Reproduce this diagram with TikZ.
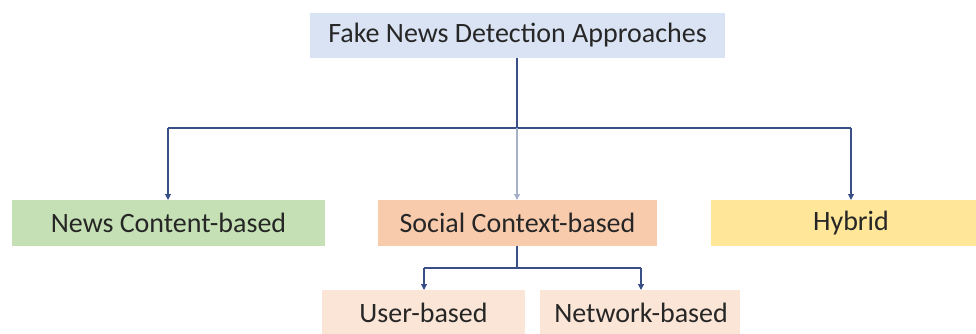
\documentclass[tikz,border=0pt]{standalone}
\usepackage{fontspec}
\setmainfont{Carlito}
\usetikzlibrary{arrows.meta}
\definecolor{rootfill}{HTML}{DAE3F3}
\definecolor{newsfill}{HTML}{C5E0B4}
\definecolor{socialfill}{HTML}{F8CBAD}
\definecolor{hybridfill}{HTML}{FFE699}
\definecolor{subfill}{HTML}{FBE5D6}
\definecolor{linkcol}{HTML}{3A4F86}
\definecolor{textcol}{HTML}{262626}
\tikzset{
  box/.style={draw=none, inner sep=0pt, text=textcol,
    font=\fontsize{28}{33}\selectfont},
  link/.style={draw=linkcol, line width=1.1pt},
  arrowlink/.style={link, -{Triangle[length=6pt,width=6pt]}},
}
\begin{document}
\begin{tikzpicture}[x=1pt,y=-1pt]
  \useasboundingbox (0,0) rectangle (976,334);
  % boxes
  \fill[rootfill] (310,13) rectangle (725,58);
  \node[box] (root) at (517.5,35.5) {Fake News Detection Approaches};
  \fill[newsfill] (12,200) rectangle (325,246);
  \node[box] (news) at (168.5,223) {News Content-based};
  \fill[socialfill] (378,200) rectangle (657,246);
  \node[box] (social) at (517.5,223) {Social Context-based};
  \fill[hybridfill] (711,200) rectangle (976,246);
  \node[box] (hybrid) at (851,223) {Hybrid};
  \fill[subfill] (322,290) rectangle (525,334);
  \node[box] (user) at (423.5,313) {User-based};
  \fill[subfill] (540,290) rectangle (740,334);
  \node[box] (network) at (641,313) {Network-based};
  % anchor points for the connectors
  \coordinate (rootb) at (517,58);
  \coordinate (bus) at (517,128);
  \coordinate (busL) at (168,128);
  \coordinate (busR) at (851,128);
  \coordinate (newst) at (168,200);
  \coordinate (socialt) at (517,200);
  \coordinate (hybridt) at (851,200);
  \coordinate (socialb) at (517,246);
  \coordinate (sbus) at (517,268);
  \coordinate (sbusL) at (424,268);
  \coordinate (sbusR) at (641,268);
  \coordinate (usert) at (424,290);
  \coordinate (networkt) at (641,290);
  % connectors
  \draw[link] (rootb) -- (bus);
  \draw[link] (busL) -- (busR);
  \draw[arrowlink] (busL) -- (newst);
  \draw[arrowlink, draw=linkcol!45] (bus) -- (socialt);
  \draw[arrowlink] (busR) -- (hybridt);
  \draw[link] (socialb) -- (sbus);
  \draw[link] (sbusL) -- (sbusR);
  \draw[arrowlink] (sbusL) -- (usert);
  \draw[arrowlink] (sbusR) -- (networkt);
\end{tikzpicture}
\end{document}
